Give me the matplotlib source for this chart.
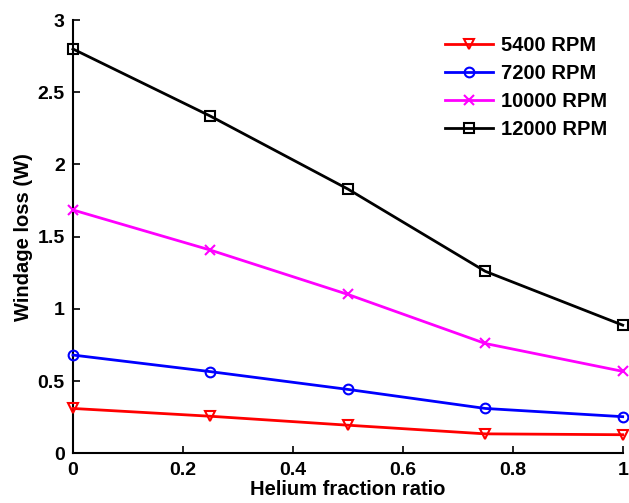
import matplotlib
matplotlib.use("Agg")
import matplotlib.pyplot as plt

helium_ratio = [0, 0.25, 0.5, 0.75, 1.0]
loss_5400 = [0.31, 0.256, 0.194, 0.134, 0.128]
loss_7200 = [0.68, 0.565, 0.442, 0.31, 0.253]
loss_10000 = [1.685, 1.407, 1.10, 0.76, 0.567]
loss_12000 = [2.80, 2.335, 1.83, 1.26, 0.887]

series = [
    ("5400 RPM", loss_5400, "red", "v"),
    ("7200 RPM", loss_7200, "blue", "o"),
    ("10000 RPM", loss_10000, "magenta", "x"),
    ("12000 RPM", loss_12000, "black", "s"),
]

plt.rcParams["font.family"] = ["Liberation Sans", "DejaVu Sans"]
plt.rcParams["font.weight"] = "bold"

fig = plt.figure(figsize=(6.29, 5.03), dpi=100)
ax = fig.add_axes([0.116, 0.099, 0.874, 0.861])

for label, vals, color, marker in series:
    ax.plot(helium_ratio, vals, color=color, marker=marker, markersize=7,
            markerfacecolor="none", markeredgecolor=color, markeredgewidth=1.5,
            linewidth=2, label=label, clip_on=False, zorder=3)

ax.set_xlim(0, 1)
ax.set_ylim(0, 3)
ax.set_xticks([0, 0.2, 0.4, 0.6, 0.8, 1])
ax.set_xticklabels(["0", "0.2", "0.4", "0.6", "0.8", "1"])
ax.set_yticks([0, 0.5, 1, 1.5, 2, 2.5, 3])
ax.set_yticklabels(["0", "0.5", "1", "1.5", "2", "2.5", "3"])
ax.tick_params(direction="in", labelsize=14, width=1.2, length=5, pad=6)
ax.spines["top"].set_visible(False)
ax.spines["right"].set_visible(False)
ax.spines["left"].set_linewidth(1.5)
ax.spines["bottom"].set_linewidth(1.5)

ax.set_xlabel("Helium fraction ratio", fontsize=14.5, fontweight="bold", labelpad=1)
ax.set_ylabel("Windage loss (W)", fontsize=14.5, fontweight="bold", labelpad=3)

ax.legend(loc="upper left", frameon=False, fontsize=14.5, handlelength=2.4,
          bbox_to_anchor=(445 / 629, 1 - 36 / 503), bbox_transform=fig.transFigure,
          borderpad=0, borderaxespad=0, labelspacing=0.45, handletextpad=0.4)

fig.savefig("out.png", dpi=100)
